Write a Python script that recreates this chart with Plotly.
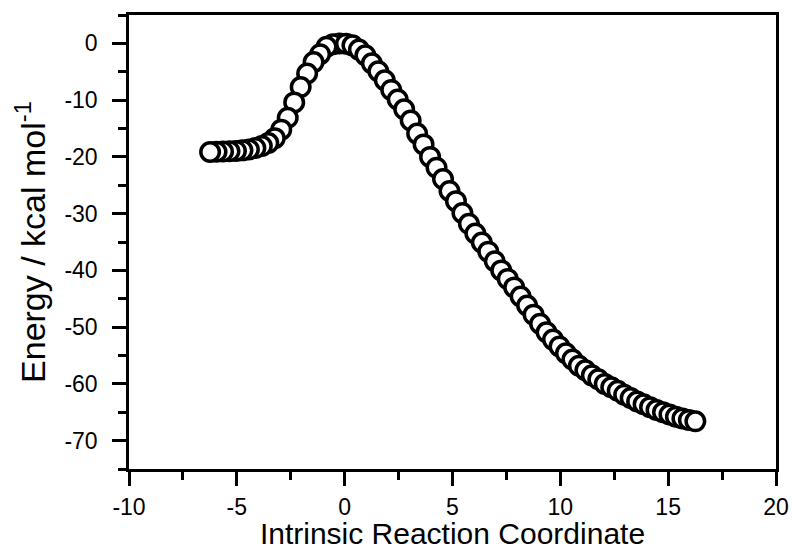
import plotly.graph_objects as go

# IRC reverse branch (from TS toward reactant)
rev_x = [-0.24, -0.54, -0.84, -1.14, -1.44, -1.74, -2.04, -2.34, -2.64, -2.94,
         -3.24, -3.54, -3.84, -4.14, -4.44, -4.74, -5.04, -5.34, -5.64, -5.94, -6.24]
rev_y = [0.0, -0.15, -0.6, -1.9, -3.3, -5.3, -7.7, -10.4, -13.1, -15.2,
         -16.7, -17.55, -18.1, -18.45, -18.7, -18.85, -18.95, -19.0, -19.05, -19.1, -19.15]

# IRC forward branch (from TS toward product)
fwd_x = [0.06, 0.36, 0.66, 0.96, 1.26, 1.56, 1.86, 2.16, 2.46, 2.76,
         3.06, 3.36, 3.66, 3.96, 4.26, 4.56, 4.86, 5.16, 5.46, 5.76,
         6.06, 6.36, 6.66, 6.96, 7.26, 7.56, 7.86, 8.16, 8.46, 8.76,
         9.06, 9.36, 9.66, 9.96, 10.26, 10.56, 10.86, 11.16, 11.46, 11.76,
         12.06, 12.36, 12.66, 12.96, 13.26, 13.56, 13.86, 14.16, 14.46, 14.76,
         15.06, 15.36, 15.66, 15.96, 16.26]
fwd_y = [-0.05, -0.35, -1.1, -2.1, -3.5, -4.9, -6.5, -8.2, -9.9, -11.6,
         -13.6, -15.9, -17.8, -20.0, -21.9, -23.9, -26.0, -27.8, -29.9, -31.8,
         -33.5, -35.1, -36.7, -38.4, -40.0, -41.5, -43.0, -44.6, -46.2, -47.8,
         -49.4, -50.9, -52.2, -53.4, -54.6, -55.7, -56.8, -57.6, -58.5, -59.2,
         -60.0, -60.6, -61.2, -61.9, -62.5, -63.1, -63.6, -64.1, -64.6, -65.0,
         -65.4, -65.8, -66.1, -66.35, -66.6]

x_tickvals = [-10, -5, 0, 5, 10, 15, 20]
x_ticktext = ["-10", "-5", "0", "5", "10", "15", "20"]
y_tickvals = [-70, -60, -50, -40, -30, -20, -10, 0]
y_ticktext = ["-70", "-60", "-50", "-40", "-30", "-20", "-10", "0"]

x_title = "Intrinsic Reaction Coordinate"
y_title = "Energy / kcal mol<sup>-1</sup>"

marker = dict(symbol="circle", size=18.5, color="white",
              line=dict(color="black", width=3.5))

fig = go.Figure()
for xs, ys in ((rev_x, rev_y), (fwd_x, fwd_y)):
    fig.add_trace(go.Scatter(x=xs, y=ys, mode="markers", marker=marker,
                             showlegend=False, cliponaxis=False))

font_family = "Arial, Liberation Sans, sans-serif"
axis_common = dict(
    showline=True, linecolor="black", linewidth=2.5, mirror=True,
    ticks="outside", ticklen=14, tickwidth=2.5, tickcolor="black",
    showgrid=False, zeroline=False, automargin=False,
    tickfont=dict(family=font_family, size=23, color="black"),
)

fig.update_xaxes(range=[-10, 20], tickmode="array",
                 tickvals=x_tickvals, ticktext=x_ticktext,
                 minor=dict(ticks="outside", ticklen=8, tickwidth=2.5,
                            tickcolor="black", tick0=-10, dtick=2.5, showgrid=False),
                 title=dict(text=x_title, standoff=19,
                            font=dict(family=font_family, size=30, color="black")),
                 ticklabelstandoff=2,
                 **axis_common)
fig.update_yaxes(range=[-75, 5], tickmode="array",
                 tickvals=y_tickvals, ticktext=y_ticktext,
                 minor=dict(ticks="outside", ticklen=8, tickwidth=2.5,
                            tickcolor="black", tick0=0, dtick=5, showgrid=False),
                 title=dict(text=y_title, standoff=9,
                            font=dict(family=font_family, size=34, color="black")),
                 ticklabelstandoff=10,
                 **axis_common)

fig.update_layout(width=792, height=550,
                  margin=dict(l=129, r=16, t=15, b=81),
                  paper_bgcolor="white", plot_bgcolor="white")

fig.write_html("out.html", config={"displayModeBar": False},
               post_script="document.body.style.margin='0px';document.body.style.overflow='hidden';")
